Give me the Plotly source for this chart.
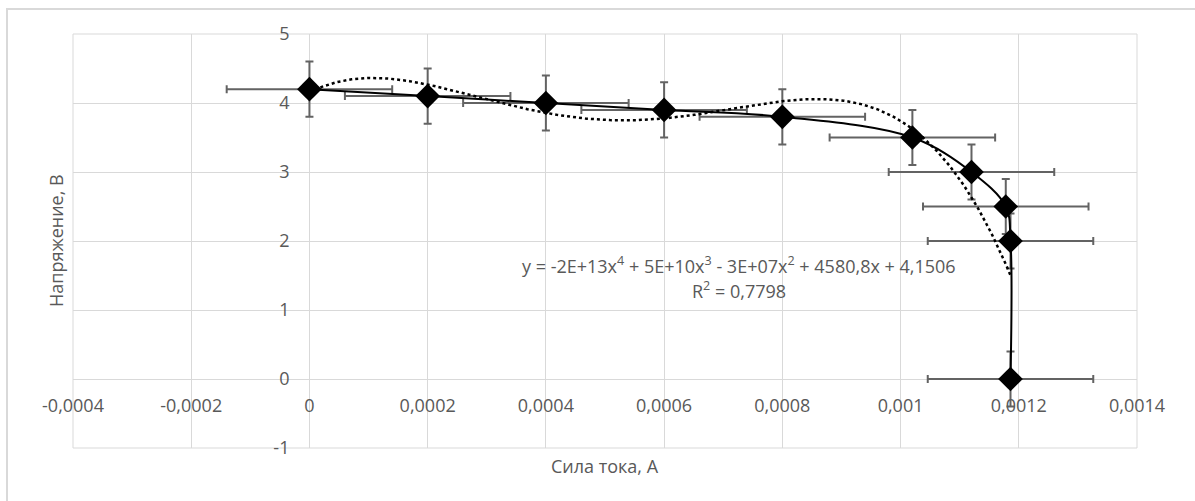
import numpy as np
import plotly.graph_objects as go

# ---- data ----
current_a = [0.0, 0.0002, 0.0004, 0.0006, 0.0008, 0.00102, 0.00112, 0.001178, 0.001186, 0.001186]
voltage_v = [4.2, 4.1, 4.0, 3.9, 3.8, 3.5, 3.0, 2.5, 2.0, 0.0]
voltage_err = [0.4, 0.4, 0.4, 0.4, 0.4, 0.4, 0.4, 0.4, 0.4, 0.4]
current_err = [0.00014, 0.00014, 0.00014, 0.00014, 0.00014, 0.00014, 0.00014, 0.00014, 0.00014, 0.00014]

x_tick_vals = [-0.0004, -0.0002, 0, 0.0002, 0.0004, 0.0006, 0.0008, 0.001, 0.0012, 0.0014]
x_tick_text = ["-0,0004", "-0,0002", "0", "0,0002", "0,0004", "0,0006", "0,0008", "0,001", "0,0012", "0,0014"]
y_tick_vals = [-1, 0, 1, 2, 3, 4, 5]
y_tick_text = ["-1", "0", "1", "2", "3", "4", "5"]

x_title = "Сила тока, А"
y_title = "Напряжение, В"
eq_line1 = "y = -2E+13x<sup>4</sup> + 5E+10x<sup>3</sup> - 3E+07x<sup>2</sup> + 4580,8x + 4,1506"
eq_line2 = "R<sup>2</sup> = 0,7798"

# 4th-order polynomial trendline fitted to the data (as Excel does)
coeffs = np.polyfit(current_a, voltage_v, 4)
trend_x = np.linspace(0, max(current_a), 400)
trend_y = np.polyval(coeffs, trend_x)

GRID = "#d9d9d9"
TXT = "#595959"
FONT = "Open Sans"
FS = 18

X_RANGE = [-0.0004, 0.0014]
Y_RANGE = [-1, 5]

fig = go.Figure()

fig.add_trace(go.Scatter(
    x=current_a, y=voltage_v,
    mode="lines+markers",
    line=dict(color="black", width=2, shape="spline", smoothing=1.0),
    marker=dict(symbol="diamond", size=19, color="black"),
    error_y=dict(type="data", array=voltage_err, visible=True, color="#636363", thickness=2, width=4),
    error_x=dict(type="data", array=current_err, visible=True, color="#636363", thickness=2, width=4),
    showlegend=False, hoverinfo="skip",
))

fig.add_trace(go.Scatter(
    x=trend_x, y=trend_y, mode="lines",
    line=dict(color="black", width=2.5, dash="dot"),
    showlegend=False, hoverinfo="skip",
))

x_pos_frac = (0 - Y_RANGE[0]) / (Y_RANGE[1] - Y_RANGE[0])
y_pos_frac = (0 - X_RANGE[0]) / (X_RANGE[1] - X_RANGE[0])

fig.update_layout(
    width=1195, height=501,
    margin=dict(l=73, r=58, t=34, b=53),
    paper_bgcolor="white", plot_bgcolor="white",
    font=dict(family=FONT, size=FS, color=TXT),
    xaxis=dict(
        range=X_RANGE, tickvals=x_tick_vals, ticktext=x_tick_text,
        showgrid=True, gridcolor=GRID, gridwidth=1,
        zeroline=True, zerolinecolor=GRID, zerolinewidth=1,
        showline=False, ticks="",
        anchor="free", position=x_pos_frac,
        ticklabelstandoff=14,
        tickfont=dict(family=FONT, size=FS, color=TXT),
    ),
    yaxis=dict(
        range=Y_RANGE, tickvals=y_tick_vals, ticktext=y_tick_text,
        showgrid=True, gridcolor=GRID, gridwidth=1,
        zeroline=True, zerolinecolor=GRID, zerolinewidth=1,
        showline=False, ticks="",
        anchor="free", position=y_pos_frac,
        ticklabelstandoff=20,
        tickfont=dict(family=FONT, size=FS, color=TXT),
    ),
)

# plot-area frame and outer chart border
fig.add_shape(type="rect", xref="paper", yref="paper", x0=0, x1=1, y0=0, y1=1,
              line=dict(color=GRID, width=1), layer="below")
fig.add_shape(type="rect", xref="paper", yref="paper",
              x0=(7 - 73) / 1064, x1=(1210 - 73) / 1064,
              y0=1 - (520 - 34) / 414, y1=1 - (9 - 34) / 414,
              line=dict(color=GRID, width=2), layer="below")

# axis titles
fig.add_annotation(text=x_title, xref="paper", yref="paper", x=0.5, y=1 - (466 - 34) / 414,
                   xanchor="center", yanchor="middle", showarrow=False,
                   font=dict(family=FONT, size=FS, color=TXT))
fig.add_annotation(text=y_title, xref="paper", yref="paper", x=(56 - 73) / 1064, y=0.5,
                   xanchor="center", yanchor="middle", textangle=-90, showarrow=False,
                   font=dict(family=FONT, size=FS, color=TXT))

# trendline equation
fig.add_annotation(text=eq_line1, xref="x", yref="y", x=0.000726, y=1.65,
                   xanchor="center", yanchor="middle", showarrow=False,
                   font=dict(family=FONT, size=FS, color=TXT))
fig.add_annotation(text=eq_line2, xref="x", yref="y", x=0.000726, y=1.285,
                   xanchor="center", yanchor="middle", showarrow=False,
                   font=dict(family=FONT, size=FS, color=TXT))

fig.write_html("out.html")
